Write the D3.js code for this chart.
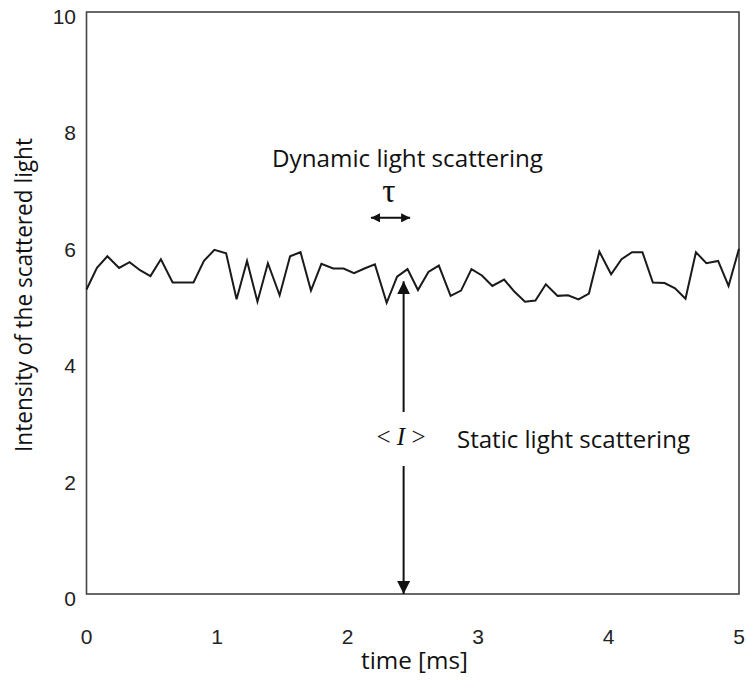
<!DOCTYPE html>
<html>
<head>
<meta charset="utf-8">
<script src="https://cdn.jsdelivr.net/npm/d3@7"></script>
<style>
body { margin: 0; background: #fff; }
</style>
</head>
<body>
<script>
// time samples [ms] and scattered intensity
var times = [0,0.08,0.16,0.25,0.33,0.41,0.49,0.57,0.66,0.74,
  0.82,0.90,0.98,1.07,1.15,1.23,1.31,1.39,1.48,1.56,
  1.64,1.72,1.80,1.89,1.97,2.05,2.13,2.21,2.30,2.38,
  2.46,2.54,2.62,2.70,2.79,2.87,2.95,3.03,3.11,3.20,
  3.28,3.36,3.44,3.52,3.61,3.69,3.77,3.85,3.93,4.02,
  4.10,4.18,4.26,4.34,4.43,4.51,4.59,4.67,4.75,4.84,
  4.92,5.00];
var intensity = [5.25,5.62,5.82,5.62,5.72,5.58,5.48,5.77,5.37,5.37,
  5.37,5.74,5.93,5.87,5.08,5.74,5.04,5.70,5.15,5.82,
  5.89,5.23,5.69,5.61,5.61,5.53,5.61,5.68,5.02,5.47,
  5.60,5.24,5.55,5.66,5.14,5.23,5.60,5.49,5.31,5.42,
  5.21,5.04,5.06,5.34,5.14,5.15,5.08,5.18,5.90,5.51,
  5.77,5.89,5.89,5.37,5.36,5.27,5.09,5.89,5.70,5.74,
  5.31,5.95];
var xTicks = [0,1,2,3,4,5];
var yTicks = [0,2,4,6,8,10];

// annotation anchors (data units)
var meanAt = {t: 2.43, top: 5.39};
var tauArrow = {t0: 2.18, t1: 2.48, v: 6.48};

var width = 747;
var height = 684;

var svg = d3.select('body').append('svg')
  .attr('width', width).attr('height', height);

var x = d3.scaleLinear().domain([0, 5]).range([86.5, 739]);
var y = d3.scaleLinear().domain([0, 10]).range([595, 13]);

// arrow heads
var defs = svg.append('defs');
defs.append('marker').attr('id', 'bigHead')
  .attr('viewBox', '0 0 10 10').attr('refX', 10).attr('refY', 5)
  .attr('markerUnits', 'userSpaceOnUse')
  .attr('markerWidth', 13).attr('markerHeight', 13)
  .attr('orient', 'auto-start-reverse')
  .append('path').attr('d', 'M0,0L10,5L0,10Z').attr('fill', '#111');
defs.append('marker').attr('id', 'smallHead')
  .attr('viewBox', '0 0 10 10').attr('refX', 10).attr('refY', 5)
  .attr('markerUnits', 'userSpaceOnUse')
  .attr('markerWidth', 9).attr('markerHeight', 9)
  .attr('orient', 'auto-start-reverse')
  .append('path').attr('d', 'M0,0L10,5L0,10Z').attr('fill', '#111');

// plot frame
svg.append('rect')
  .attr('x', x(0)).attr('y', y(10) - 1)
  .attr('width', x(5) - x(0)).attr('height', y(0) - y(10))
  .attr('fill', 'none').attr('stroke', '#444').attr('stroke-width', 1.6);

// tick labels
svg.append('g').selectAll('text').data(xTicks).join('text')
  .attr('x', function(d) { return x(d); })
  .attr('y', 644)
  .attr('text-anchor', 'middle')
  .attr('font-family', 'Liberation Sans, Arial, sans-serif')
  .attr('font-size', 21).attr('fill', '#222')
  .text(function(d) { return d; });

svg.append('g').selectAll('text').data(yTicks).join('text')
  .attr('x', 76)
  .attr('y', function(d) { return y(d) + 11; })
  .attr('text-anchor', 'end')
  .attr('font-family', 'Liberation Sans, Arial, sans-serif')
  .attr('font-size', 21).attr('fill', '#222')
  .text(function(d) { return d; });

// axis titles
svg.append('text').attr('x', 361).attr('y', 669)
  .attr('font-family', 'Open Sans, sans-serif').attr('font-size', 23)
  .attr('textLength', 107).attr('lengthAdjust', 'spacingAndGlyphs')
  .attr('fill', '#111').text('time [ms]');

svg.append('text')
  .attr('transform', 'translate(32,452) rotate(-90)')
  .attr('font-family', 'Open Sans, sans-serif').attr('font-size', 23)
  .attr('textLength', 314).attr('lengthAdjust', 'spacingAndGlyphs')
  .attr('fill', '#111').text('Intensity of the scattered light');

// intensity trace
var line = d3.line()
  .x(function(d, i) { return x(times[i]); })
  .y(function(d) { return y(d); });

svg.append('path').datum(intensity)
  .attr('d', line)
  .attr('fill', 'none').attr('stroke', '#1a1a1a').attr('stroke-width', 2)
  .attr('stroke-linejoin', 'miter');

// <I> arrow, split around its label
svg.append('line')
  .attr('x1', x(meanAt.t)).attr('x2', x(meanAt.t))
  .attr('y1', 412).attr('y2', y(meanAt.top))
  .attr('stroke', '#111').attr('stroke-width', 2)
  .attr('marker-end', 'url(#bigHead)');
svg.append('line')
  .attr('x1', x(meanAt.t)).attr('x2', x(meanAt.t))
  .attr('y1', 466).attr('y2', y(0) - 1)
  .attr('stroke', '#111').attr('stroke-width', 2)
  .attr('marker-end', 'url(#bigHead)');

svg.append('text').attr('x', 401).attr('y', 445)
  .attr('text-anchor', 'middle')
  .attr('font-family', 'Liberation Serif, Times New Roman, serif')
  .attr('font-size', 25).attr('fill', '#111')
  .html('&lt; <tspan font-style="italic">I</tspan> &gt;');

// tau arrow
svg.append('line')
  .attr('x1', x(tauArrow.t0)).attr('x2', x(tauArrow.t1))
  .attr('y1', y(tauArrow.v)).attr('y2', y(tauArrow.v))
  .attr('stroke', '#111').attr('stroke-width', 2)
  .attr('marker-start', 'url(#smallHead)')
  .attr('marker-end', 'url(#smallHead)');

svg.append('text').attr('x', 389).attr('y', 202)
  .attr('text-anchor', 'middle')
  .attr('font-family', 'Liberation Serif, Times New Roman, serif')
  .attr('font-size', 33).attr('fill', '#111')
  .text('\u03c4');

svg.append('text').attr('x', 272).attr('y', 167)
  .attr('font-family', 'Open Sans, sans-serif').attr('font-size', 23)
  .attr('textLength', 271).attr('lengthAdjust', 'spacingAndGlyphs')
  .attr('fill', '#111').text('Dynamic light scattering');

svg.append('text').attr('x', 457).attr('y', 448)
  .attr('font-family', 'Open Sans, sans-serif').attr('font-size', 23)
  .attr('textLength', 233).attr('lengthAdjust', 'spacingAndGlyphs')
  .attr('fill', '#111').text('Static light scattering');
</script>
</body>
</html>
